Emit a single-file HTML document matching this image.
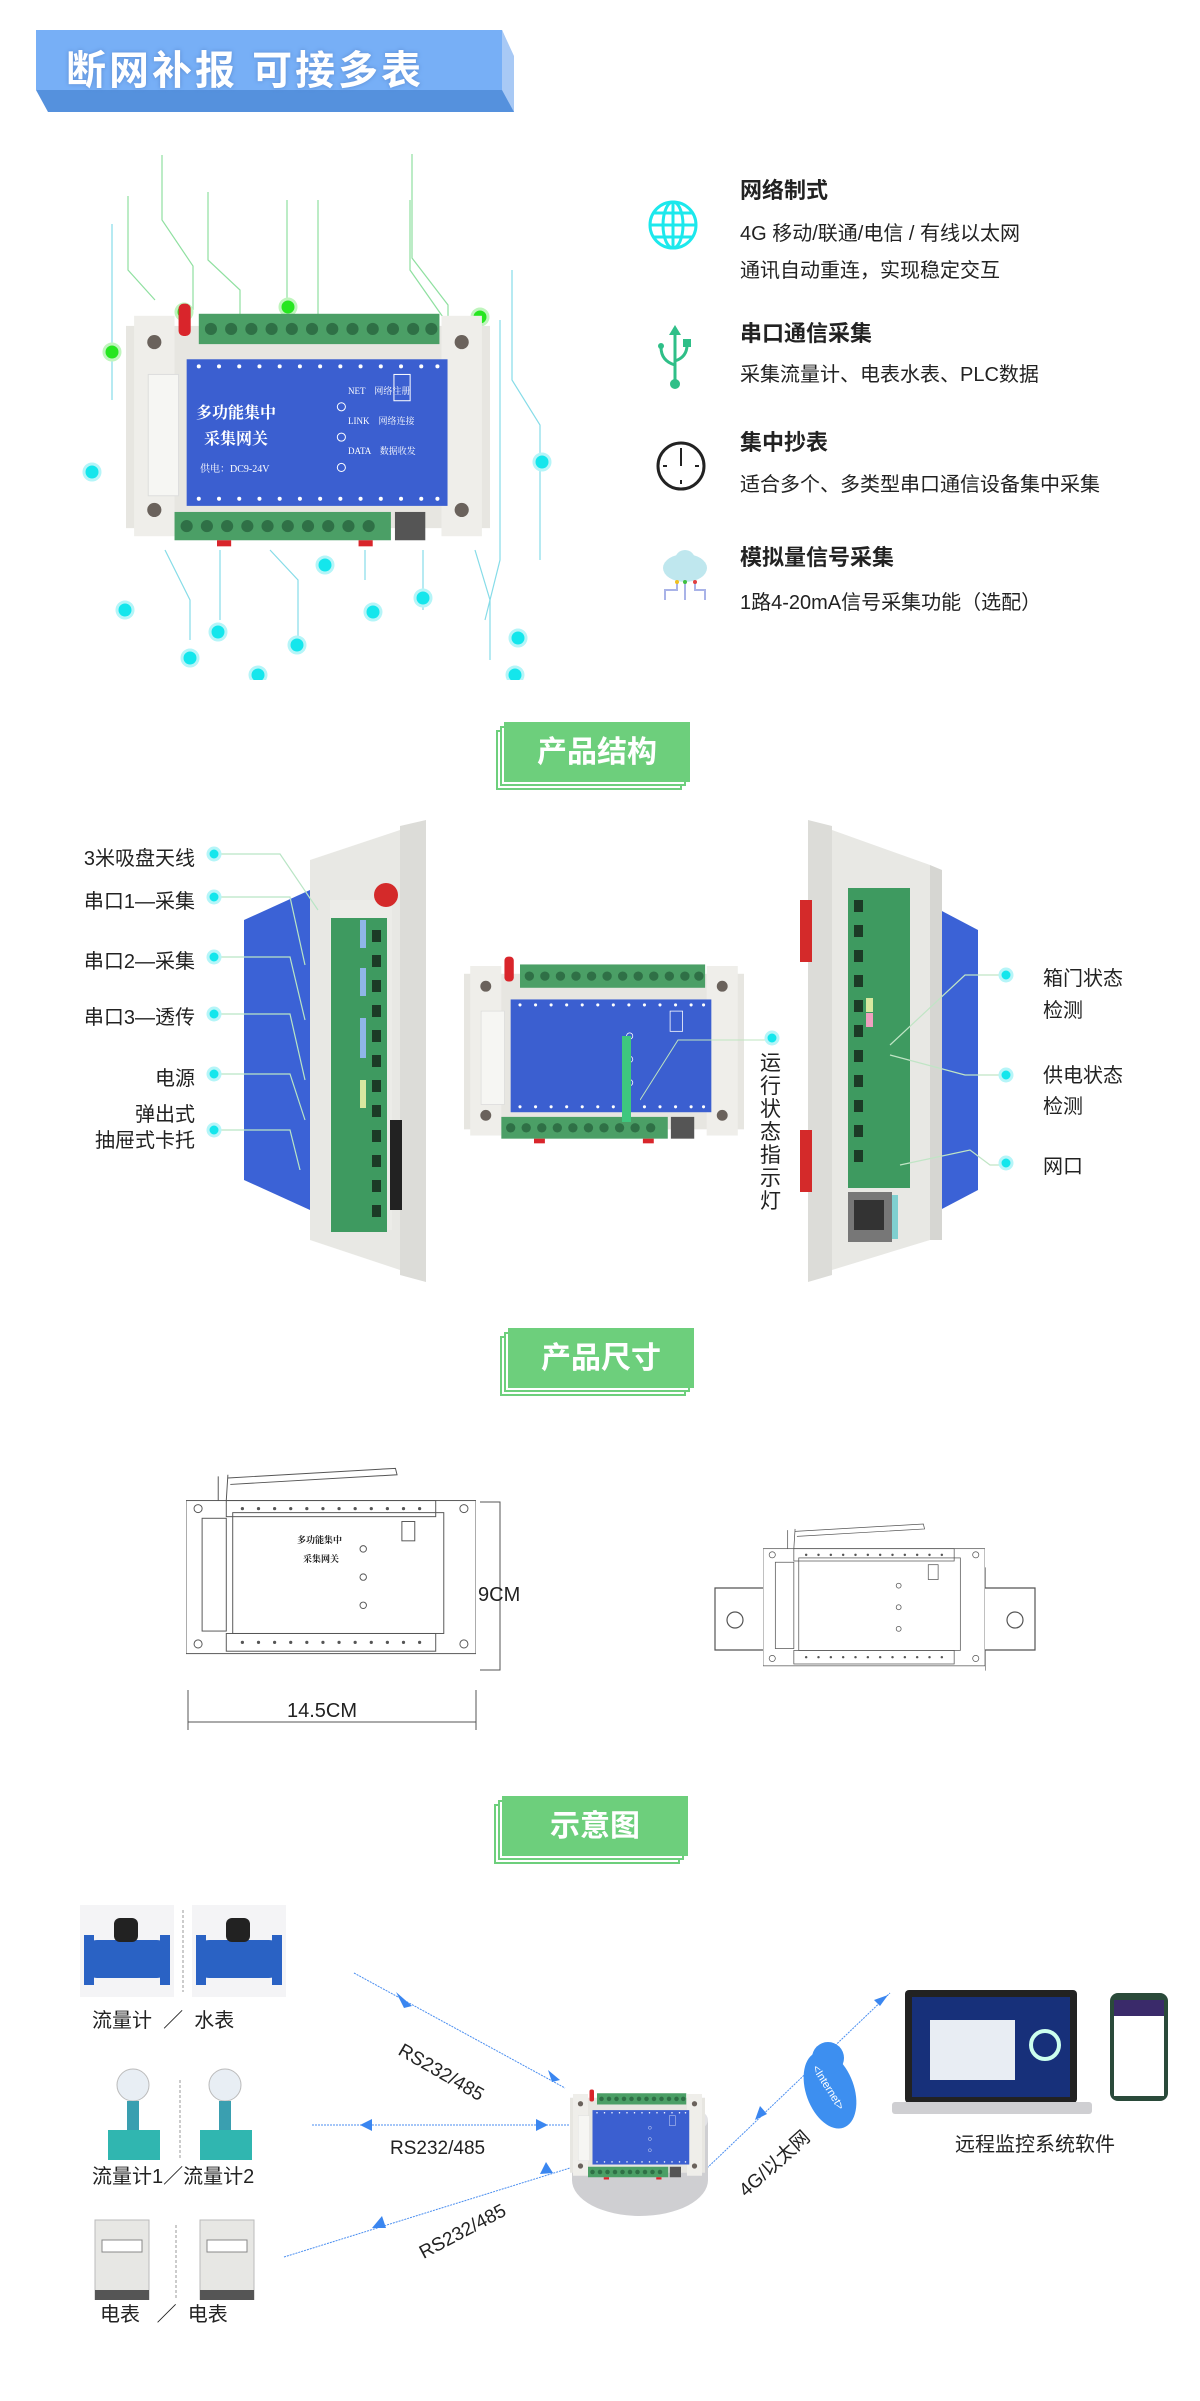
<!DOCTYPE html>
<html><head><meta charset="utf-8">
<style>
html,body{margin:0;padding:0;background:#fff;}
body{width:1200px;height:2401px;position:relative;overflow:hidden;font-family:"Liberation Sans","Noto Sans CJK SC",sans-serif;color:#222;}
.abs{position:absolute;white-space:nowrap;}
.ft{font-family:"Liberation Serif","Noto Serif CJK SC",serif;}
.t{font-size:22px;font-weight:bold;}
.b{font-size:20px;}
.sec{position:absolute;width:190px;height:62px;}
.sec div{position:absolute;border:2px solid #6dcf7c;width:182px;height:56px;background:#fff;}
.sec .m{background:#6dcf7c;color:#fff;font-size:30px;font-weight:bold;text-align:center;line-height:58px;border-color:#6dcf7c;}
.lab{font-size:20px;}
</style></head><body>
<svg width="0" height="0" style="position:absolute">
 <symbol id="dev" viewBox="0 0 360 240">
  <rect x="0" y="22" width="360" height="200" fill="#e7e6e1"/>
  <rect x="8" y="12" width="40" height="218" fill="#efeeea"/>
  <rect x="312" y="12" width="40" height="218" fill="#efeeea"/>
  <circle cx="28" cy="38" r="7" fill="#6a625c"/><circle cx="332" cy="38" r="7" fill="#6a625c"/>
  <circle cx="28" cy="204" r="7" fill="#6a625c"/><circle cx="332" cy="204" r="7" fill="#6a625c"/>
  <rect x="22" y="70" width="30" height="120" fill="#f6f6f3" stroke="#ddd"/>
  <rect x="72" y="10" width="238" height="30" fill="#4b9f66"/>
  <g fill="#2f7046"><circle cx="84" cy="25" r="6"/><circle cx="104" cy="25" r="6"/><circle cx="124" cy="25" r="6"/><circle cx="144" cy="25" r="6"/><circle cx="164" cy="25" r="6"/><circle cx="184" cy="25" r="6"/><circle cx="204" cy="25" r="6"/><circle cx="224" cy="25" r="6"/><circle cx="244" cy="25" r="6"/><circle cx="264" cy="25" r="6"/><circle cx="284" cy="25" r="6"/><circle cx="302" cy="25" r="6"/></g>
  <rect x="52" y="0" width="12" height="32" rx="5" fill="#d9252b"/>
  <rect x="60" y="55" width="258" height="145" fill="#3b5fd0"/>
  <g fill="#fff"><circle cx="72" cy="62" r="2"/><circle cx="92" cy="62" r="2"/><circle cx="112" cy="62" r="2"/><circle cx="132" cy="62" r="2"/><circle cx="152" cy="62" r="2"/><circle cx="172" cy="62" r="2"/><circle cx="192" cy="62" r="2"/><circle cx="212" cy="62" r="2"/><circle cx="232" cy="62" r="2"/><circle cx="252" cy="62" r="2"/><circle cx="272" cy="62" r="2"/><circle cx="292" cy="62" r="2"/><circle cx="308" cy="62" r="2"/></g>
  <g fill="#fff"><circle cx="72" cy="193" r="2"/><circle cx="92" cy="193" r="2"/><circle cx="112" cy="193" r="2"/><circle cx="132" cy="193" r="2"/><circle cx="152" cy="193" r="2"/><circle cx="172" cy="193" r="2"/><circle cx="192" cy="193" r="2"/><circle cx="212" cy="193" r="2"/><circle cx="232" cy="193" r="2"/><circle cx="252" cy="193" r="2"/><circle cx="272" cy="193" r="2"/><circle cx="292" cy="193" r="2"/><circle cx="308" cy="193" r="2"/></g>
  <g fill="none" stroke="#fff" stroke-width="1"><circle cx="213" cy="102" r="4"/><circle cx="213" cy="132" r="4"/><circle cx="213" cy="162" r="4"/><rect x="265" y="70" width="16" height="26"/></g>
  <rect x="48" y="206" width="214" height="28" fill="#4b9f66"/>
  <g fill="#2f7046"><circle cx="60" cy="220" r="6"/><circle cx="80" cy="220" r="6"/><circle cx="100" cy="220" r="6"/><circle cx="120" cy="220" r="6"/><circle cx="140" cy="220" r="6"/><circle cx="160" cy="220" r="6"/><circle cx="180" cy="220" r="6"/><circle cx="200" cy="220" r="6"/><circle cx="220" cy="220" r="6"/><circle cx="240" cy="220" r="6"/></g>
  <rect x="266" y="206" width="30" height="28" fill="#555"/>
  <rect x="90" y="234" width="14" height="6" fill="#d9252b"/><rect x="230" y="234" width="14" height="6" fill="#d9252b"/>
 </symbol>
 <symbol id="ldev" viewBox="0 0 360 240">
  <g fill="none" stroke="#555" stroke-width="1.2">
  <rect x="0" y="40" width="360" height="190"/>
  <rect x="20" y="62" width="30" height="140"/>
  <rect x="58" y="55" width="262" height="150"/>
  <rect x="50" y="40" width="260" height="20"/>
  <rect x="50" y="205" width="260" height="22"/>
  <circle cx="15" cy="50" r="5"/><circle cx="345" cy="50" r="5"/><circle cx="15" cy="218" r="5"/><circle cx="345" cy="218" r="5"/>
  <circle cx="220" cy="100" r="4"/><circle cx="220" cy="135" r="4"/><circle cx="220" cy="170" r="4"/>
  <rect x="268" y="66" width="16" height="24"/>
  <path d="M40 40 L40 10 M50 40 L52 8 M52 12 L260 0 L262 8 L55 20"/>
  </g>
  <g fill="#555"><circle cx="70" cy="50" r="2"/><circle cx="90" cy="50" r="2"/><circle cx="110" cy="50" r="2"/><circle cx="130" cy="50" r="2"/><circle cx="150" cy="50" r="2"/><circle cx="170" cy="50" r="2"/><circle cx="190" cy="50" r="2"/><circle cx="210" cy="50" r="2"/><circle cx="230" cy="50" r="2"/><circle cx="250" cy="50" r="2"/><circle cx="270" cy="50" r="2"/><circle cx="290" cy="50" r="2"/>
  <circle cx="70" cy="216" r="2"/><circle cx="90" cy="216" r="2"/><circle cx="110" cy="216" r="2"/><circle cx="130" cy="216" r="2"/><circle cx="150" cy="216" r="2"/><circle cx="170" cy="216" r="2"/><circle cx="190" cy="216" r="2"/><circle cx="210" cy="216" r="2"/><circle cx="230" cy="216" r="2"/><circle cx="250" cy="216" r="2"/><circle cx="270" cy="216" r="2"/><circle cx="290" cy="216" r="2"/></g>
 </symbol>
</svg>

<!-- Header banner -->
<svg class="abs" style="left:36px;top:28px" width="480" height="90">
 <polygon points="0,2 466,2 478,30 478,84 12,84 0,62" fill="#5591dd"/>
 <rect x="0" y="2" width="466" height="60" fill="#77aff6"/>
 <polygon points="466,2 478,28 478,84 466,62" fill="#a8c9f5"/>
</svg>
<div class="abs" style="left:66px;top:38px;font-size:40px;font-weight:bold;color:#fff;letter-spacing:3px;text-shadow:0 0 4px #5a8ad0;">断网补报 可接多表</div>

<!-- Top device with decor lines -->
<svg class="abs" style="left:60px;top:140px" width="500" height="540">
 <g stroke="#8fe0a0" stroke-width="1.2" fill="none">
  <path d="M102 15 V80 L133 126 V170"/><path d="M68 56 V130 L95 160"/><path d="M148 52 V120 L180 150 V200"/>
  <path d="M227 60 V200"/><path d="M258 60 V190"/><path d="M352 14 V118 L388 165 V205"/><path d="M350 60 V130 L385 180"/>
 </g>
 <g stroke="#86dce8" stroke-width="1.2" fill="none">
  <path d="M52 84 V260"/><path d="M452 130 V240 L480 285 V420"/><path d="M440 180 V420 L425 480"/>
  <path d="M105 410 L130 460 V500"/><path d="M160 410 V480"/><path d="M210 410 L238 440 V500"/><path d="M305 410 V440"/><path d="M363 410 V470"/><path d="M415 410 L430 460 V520"/>
 </g>
 <g fill="#26e620" stroke="#bff5bd" stroke-width="3"><circle cx="52" cy="212" r="8"/><circle cx="124" cy="172" r="8"/><circle cx="228" cy="167" r="8"/><circle cx="420" cy="177" r="8"/></g>
 <g fill="#14e6ec" stroke="#b5f5f8" stroke-width="3"><circle cx="32" cy="332" r="8"/><circle cx="482" cy="322" r="8"/><circle cx="65" cy="470" r="8"/><circle cx="130" cy="518" r="8"/><circle cx="158" cy="492" r="8"/><circle cx="198" cy="535" r="8"/><circle cx="237" cy="505" r="8"/><circle cx="265" cy="425" r="8"/><circle cx="313" cy="472" r="8"/><circle cx="363" cy="458" r="8"/><circle cx="455" cy="535" r="8"/><circle cx="458" cy="498" r="8"/><circle cx="440" cy="180" r="0"/></g>
 <use href="#dev" x="66" y="162" width="364" height="246"/>
</svg>
<div class="abs ft" style="left:196px;top:400px;color:#fff;font-size:16px;font-weight:bold;">多功能集中</div>
<div class="abs ft" style="left:204px;top:426px;color:#fff;font-size:16px;font-weight:bold;">采集网关</div>
<div class="abs ft" style="left:200px;top:460px;color:#fff;font-size:10px;">供电：DC9-24V</div>
<div class="abs ft" style="left:348px;top:384px;color:#fff;font-size:9px;">NET　网络注册</div>
<div class="abs ft" style="left:348px;top:414px;color:#fff;font-size:9px;">LINK　网络连接</div>
<div class="abs ft" style="left:348px;top:444px;color:#fff;font-size:9px;">DATA　数据收发</div>

<!-- Feature icons -->
<svg class="abs" style="left:645px;top:195px" width="60" height="60"><g fill="none" stroke="#1ce8ec" stroke-width="3"><circle cx="28" cy="30" r="23"/><ellipse cx="28" cy="30" rx="10" ry="23"/><path d="M5 30H51M9 18H47M9 42H47M28 7V53"/></g></svg>
<svg class="abs" style="left:655px;top:325px" width="40" height="65"><g fill="none" stroke="#2fbf88" stroke-width="3"><path d="M20 4V58M20 40 Q6 36 6 22M20 36 Q32 32 32 20"/></g><polygon points="20,0 14,10 26,10" fill="#2fbf88"/><circle cx="6" cy="21" r="3" fill="#2fbf88"/><rect x="28" y="14" width="8" height="8" fill="#2fbf88"/><circle cx="20" cy="59" r="5" fill="#2fbf88"/></svg>
<svg class="abs" style="left:655px;top:440px" width="56" height="56"><circle cx="26" cy="26" r="23" fill="none" stroke="#222" stroke-width="3"/><path d="M26 8V12M26 40V44M8 26H12M40 26H44M26 26V12" stroke="#222" stroke-width="2"/></svg>
<svg class="abs" style="left:655px;top:548px" width="60" height="60"><ellipse cx="30" cy="20" rx="22" ry="14" fill="#bfe7ee"/><circle cx="30" cy="12" r="10" fill="#bfe7ee"/><path d="M10 52 V42 H22 V34 M30 52 V34 M50 52 V42 H40 V34" fill="none" stroke="#a9b3e8" stroke-width="2"/><circle cx="22" cy="34" r="2" fill="#f0c020"/><circle cx="30" cy="34" r="2" fill="#40c040"/><circle cx="40" cy="34" r="2" fill="#e04040"/></svg>

<div class="abs t" style="left:740px;top:173px;">网络制式</div>
<div class="abs b" style="left:740px;top:217px;">4G 移动/联通/电信 / 有线以太网</div>
<div class="abs b" style="left:740px;top:254px;">通讯自动重连，实现稳定交互</div>
<div class="abs t" style="left:740px;top:316px;">串口通信采集</div>
<div class="abs b" style="left:740px;top:358px;">采集流量计、电表水表、PLC数据</div>
<div class="abs t" style="left:740px;top:425px;">集中抄表</div>
<div class="abs b" style="left:740px;top:468px;">适合多个、多类型串口通信设备集中采集</div>
<div class="abs t" style="left:740px;top:540px;">模拟量信号采集</div>
<div class="abs b" style="left:740px;top:586px;">1路4-20mA信号采集功能（选配）</div>

<!-- Section: 产品结构 -->
<div class="sec" style="left:496px;top:722px;"><div style="left:0;top:8px"></div><div style="left:4px;top:4px"></div><div class="m" style="left:8px;top:0">产品结构</div></div>

<!-- left side-view device -->
<svg class="abs" style="left:230px;top:820px" width="200" height="462">
 <polygon points="170,6 196,0 196,462 170,455" fill="#dcdcd8"/>
 <polygon points="80,40 170,10 170,450 80,420" fill="#e8e8e4"/>
 <polygon points="14,100 80,70 80,390 14,360" fill="#3b62d6"/>
 <rect x="100" y="80" width="62" height="330" fill="#ecece8"/>
 <rect x="101" y="98" width="56" height="314" fill="#3e9a60"/>
 <g fill="#1c3a26"><rect x="142" y="110" width="9" height="12"/><rect x="142" y="135" width="9" height="12"/><rect x="142" y="160" width="9" height="12"/><rect x="142" y="185" width="9" height="12"/><rect x="142" y="210" width="9" height="12"/><rect x="142" y="235" width="9" height="12"/><rect x="142" y="260" width="9" height="12"/><rect x="142" y="285" width="9" height="12"/><rect x="142" y="310" width="9" height="12"/><rect x="142" y="335" width="9" height="12"/><rect x="142" y="360" width="9" height="12"/><rect x="142" y="385" width="9" height="12"/></g>
 <rect x="130" y="100" width="6" height="28" fill="#8fb6e8"/><rect x="130" y="148" width="6" height="28" fill="#8fb6e8"/><rect x="130" y="198" width="6" height="40" fill="#8fb6e8"/><rect x="130" y="260" width="6" height="28" fill="#d8e8a0"/>
 <circle cx="156" cy="75" r="12" fill="#d42a2a"/>
 <rect x="160" y="300" width="12" height="90" fill="#222"/>
</svg>
<svg class="abs" style="left:200px;top:840px" width="240" height="330"><g stroke="#b9e5c5" stroke-width="1.2" fill="none">
 <path d="M18 14H80L118 70"/><path d="M18 57H90L105 125"/><path d="M18 117H90L105 180"/><path d="M18 174H90L105 240"/><path d="M18 234H90L105 280"/><path d="M18 290H90L105 350"/></g>
 <g fill="#14e6ec" stroke="#b5f5f8" stroke-width="3"><circle cx="14" cy="14" r="6"/><circle cx="14" cy="57" r="6"/><circle cx="14" cy="117" r="6"/><circle cx="14" cy="174" r="6"/><circle cx="14" cy="234" r="6"/><circle cx="14" cy="290" r="6"/></g></svg>
<div class="abs lab" style="right:1005px;top:842px;">3米吸盘天线</div>
<div class="abs lab" style="right:1005px;top:885px;">串口1—采集</div>
<div class="abs lab" style="right:1005px;top:945px;">串口2—采集</div>
<div class="abs lab" style="right:1005px;top:1001px;">串口3—透传</div>
<div class="abs lab" style="right:1005px;top:1062px;">电源</div>
<div class="abs lab" style="right:1005px;top:1098px;">弹出式</div>
<div class="abs lab" style="right:1005px;top:1124px;">抽屉式卡托</div>

<!-- middle device -->
<svg class="abs" style="left:464px;top:955px" width="280" height="200"><use href="#dev" x="0" y="0" width="280" height="190"/></svg>
<rect></rect>
<div class="abs" style="left:622px;top:1036px;width:9px;height:86px;background:#3ec77e;"></div>
<svg class="abs" style="left:640px;top:1030px" width="140" height="80"><path d="M0 70 L38 10 H130" stroke="#bfe5c0" fill="none"/><circle cx="132" cy="8" r="6" fill="#14e6ec" stroke="#b5f5f8" stroke-width="3"/></svg>
<div class="abs" style="left:760px;top:1052px;width:24px;font-size:21px;line-height:23px;white-space:normal;">运行状态指示灯</div>

<!-- right side-view device -->
<svg class="abs" style="left:800px;top:820px" width="190" height="462">
 <polygon points="8,0 32,6 32,455 8,462" fill="#dcdcd8"/>
 <polygon points="32,10 130,45 130,420 32,450" fill="#e8e8e4"/>
 <polygon points="140,90 178,110 178,370 140,390" fill="#3b62d6"/>
 <polygon points="130,45 142,50 142,420 130,420" fill="#d6d6d2"/>
 <rect x="48" y="68" width="62" height="300" fill="#3e9a60"/>
 <g fill="#1c3a26"><rect x="54" y="80" width="9" height="12"/><rect x="54" y="105" width="9" height="12"/><rect x="54" y="130" width="9" height="12"/><rect x="54" y="155" width="9" height="12"/><rect x="54" y="180" width="9" height="12"/><rect x="54" y="205" width="9" height="12"/><rect x="54" y="230" width="9" height="12"/><rect x="54" y="255" width="9" height="12"/><rect x="54" y="280" width="9" height="12"/><rect x="54" y="305" width="9" height="12"/><rect x="54" y="330" width="9" height="12"/></g>
 <rect x="66" y="178" width="7" height="14" fill="#d8e8a0"/><rect x="66" y="193" width="7" height="14" fill="#f0a0c0"/>
 <rect x="0" y="80" width="12" height="62" fill="#d42a2a"/><rect x="0" y="310" width="12" height="62" fill="#d42a2a"/>
 <rect x="48" y="372" width="44" height="50" fill="#777"/><rect x="54" y="380" width="30" height="30" fill="#333"/><rect x="92" y="375" width="6" height="44" fill="#7fd0d0"/>
</svg>
<svg class="abs" style="left:870px;top:965px" width="150" height="220"><g stroke="#c0e5c5" stroke-width="1.2" fill="none"><path d="M20 80 L95 10 H134"/><path d="M20 90 L95 110 H134"/><path d="M30 200 L100 185 L120 200 H134" transform="translate(0,0)"/></g>
<g fill="#14e6ec" stroke="#b5f5f8" stroke-width="3"><circle cx="136" cy="10" r="6"/><circle cx="136" cy="110" r="6"/><circle cx="136" cy="198" r="6"/></g></svg>
<div class="abs lab" style="left:1043px;top:962px;">箱门状态</div>
<div class="abs lab" style="left:1043px;top:994px;">检测</div>
<div class="abs lab" style="left:1043px;top:1059px;">供电状态</div>
<div class="abs lab" style="left:1043px;top:1090px;">检测</div>
<div class="abs lab" style="left:1043px;top:1150px;">网口</div>

<!-- Section: 产品尺寸 -->
<div class="sec" style="left:500px;top:1328px;"><div style="left:0;top:8px"></div><div style="left:4px;top:4px"></div><div class="m" style="left:8px;top:0">产品尺寸</div></div>

<svg class="abs" style="left:180px;top:1440px" width="360" height="300">
 <use href="#ldev" x="6" y="10" width="290" height="230"/>
 <g stroke="#555" stroke-width="1" fill="none"><path d="M300 62H320V230H300M320 62V230"/><path d="M8 250V290M296 250V290M8 282H296"/></g>
</svg>
<div class="abs ft" style="left:297px;top:1533px;font-size:9px;font-weight:bold;">多功能集中</div>
<div class="abs ft" style="left:303px;top:1552px;font-size:9px;font-weight:bold;">采集网关</div>
<div class="abs" style="left:478px;top:1584px;font-size:20px;">9CM</div>
<div class="abs" style="left:287px;top:1700px;font-size:20px;">14.5CM</div>

<svg class="abs" style="left:705px;top:1490px" width="340" height="210">
 <g fill="none" stroke="#555" stroke-width="1.2"><path d="M10 98 H60 V78 H280 V98 H330 V160 H280 V180 H60 V160 H10 Z"/><circle cx="30" cy="130" r="8"/><circle cx="310" cy="130" r="8"/></g>
 <rect x="58" y="30" width="222" height="168" fill="#fff"/>
 <use href="#ldev" x="58" y="18" width="222" height="180"/>
</svg>

<!-- Section: 示意图 -->
<div class="sec" style="left:494px;top:1796px;"><div style="left:0;top:8px"></div><div style="left:4px;top:4px"></div><div class="m" style="left:8px;top:0">示意图</div></div>

<!-- Schematic -->
<svg class="abs" style="left:0;top:1880px" width="1200" height="420">
 <!-- water meters -->
 <g>
  <rect x="80" y="25" width="94" height="92" fill="#f4f4f6"/><rect x="192" y="25" width="94" height="92" fill="#f4f4f6"/>
  <g fill="#2a62c4"><rect x="85" y="60" width="84" height="38" rx="12"/><rect x="197" y="60" width="84" height="38" rx="12"/><rect x="84" y="55" width="10" height="50"/><rect x="160" y="55" width="10" height="50"/><rect x="196" y="55" width="10" height="50"/><rect x="272" y="55" width="10" height="50"/></g>
  <g fill="#222"><rect x="114" y="38" width="24" height="24" rx="6"/><rect x="226" y="38" width="24" height="24" rx="6"/></g>
  <path d="M183 30V112" stroke="#999" stroke-dasharray="3 2"/>
 </g>
 <!-- flow meters -->
 <g>
  <circle cx="133" cy="205" r="16" fill="#e8eef4" stroke="#bbb"/><circle cx="225" cy="205" r="16" fill="#e8eef4" stroke="#bbb"/>
  <rect x="127" y="221" width="12" height="30" fill="#3a9fb0"/><rect x="219" y="221" width="12" height="30" fill="#3a9fb0"/>
  <rect x="108" y="250" width="52" height="30" fill="#30b6b0"/><rect x="200" y="250" width="52" height="30" fill="#30b6b0"/>
  <path d="M180 200V280" stroke="#999" stroke-dasharray="3 2"/>
 </g>
 <!-- electric meters -->
 <g>
  <rect x="95" y="340" width="54" height="92" fill="#e7e7e4" stroke="#bbb"/><rect x="200" y="340" width="54" height="92" fill="#e7e7e4" stroke="#bbb"/>
  <rect x="95" y="410" width="54" height="22" fill="#555"/><rect x="200" y="410" width="54" height="22" fill="#555"/>
  <rect x="102" y="360" width="40" height="12" fill="#fff" stroke="#888"/><rect x="207" y="360" width="40" height="12" fill="#fff" stroke="#888"/>
  <path d="M176 345V430" stroke="#999" stroke-dasharray="3 2"/>
 </g>
 <!-- lines -->
 <g stroke="#4a8ef0" stroke-width="1" stroke-dasharray="2 1" fill="none">
  <path d="M354 93 L565 208"/><path d="M312 245 L577 245"/><path d="M284 377 L570 288"/><path d="M705 290 L890 113"/>
 </g>
 <g fill="#3a86f0">
  <polygon points="396,112 412,126 404,128"/><polygon points="560,200 548,190 552,202"/>
  <polygon points="360,245 372,239 372,251"/><polygon points="548,245 536,239 536,251"/>
  <polygon points="372,348 382,336 386,348"/><polygon points="553,293 540,294 546,282"/>
  <polygon points="755,240 760,226 767,234"/><polygon points="888,115 880,126 874,120"/>
 </g>
 <!-- center device -->
 <ellipse cx="640" cy="300" rx="68" ry="36" fill="#cfcfd2"/>
 <rect x="572" y="240" width="136" height="60" fill="#cfcfd2"/>
 <ellipse cx="640" cy="240" rx="68" ry="22" fill="#e3e3e6"/>
 <use href="#dev" x="570" y="207" width="135" height="95"/>
 <!-- cloud -->
 <g fill="#3d8ff0"><ellipse cx="830" cy="210" rx="24" ry="40" transform="rotate(-20 830 210)"/><circle cx="828" cy="178" r="16"/></g>
 <text x="812" y="188" transform="rotate(58 812 188)" font-size="11" fill="#fff" font-family="Liberation Sans, sans-serif">&lt;Internet&gt;</text>
 <!-- laptop -->
 <rect x="905" y="110" width="172" height="113" rx="4" fill="#222"/>
 <rect x="912" y="117" width="158" height="100" fill="#17307a"/>
 <rect x="930" y="140" width="85" height="60" fill="#e8edf3"/>
 <circle cx="1045" cy="165" r="14" fill="none" stroke="#cfe" stroke-width="4"/>
 <rect x="892" y="222" width="200" height="12" rx="3" fill="#cfcfd2"/>
 <!-- phone -->
 <rect x="1110" y="113" width="58" height="108" rx="8" fill="#2a4a3a"/>
 <rect x="1114" y="120" width="50" height="96" fill="#fff"/>
 <rect x="1114" y="120" width="50" height="16" fill="#3a2a6a"/>
</svg>
<div class="abs" style="left:92px;top:2004px;font-size:20px;">流量计 &nbsp;／ &nbsp;水表</div>
<div class="abs" style="left:92px;top:2160px;font-size:20px;">流量计1／流量计2</div>
<div class="abs" style="left:100px;top:2298px;font-size:20px;">电表 &nbsp;&nbsp;／ &nbsp;电表</div>
<div class="abs" style="left:955px;top:2128px;font-size:20px;">远程监控系统软件</div>
<div class="abs" style="left:405px;top:2040px;font-size:19px;transform:rotate(30deg);transform-origin:left top;">RS232/485</div>
<div class="abs" style="left:390px;top:2138px;font-size:19px;">RS232/485</div>
<div class="abs" style="left:416px;top:2245px;font-size:19px;transform:rotate(-28deg);transform-origin:left top;">RS232/485</div>
<div class="abs" style="left:732px;top:2182px;font-size:19px;transform:rotate(-42deg);transform-origin:left top;">4G/以太网</div>
</body></html>
